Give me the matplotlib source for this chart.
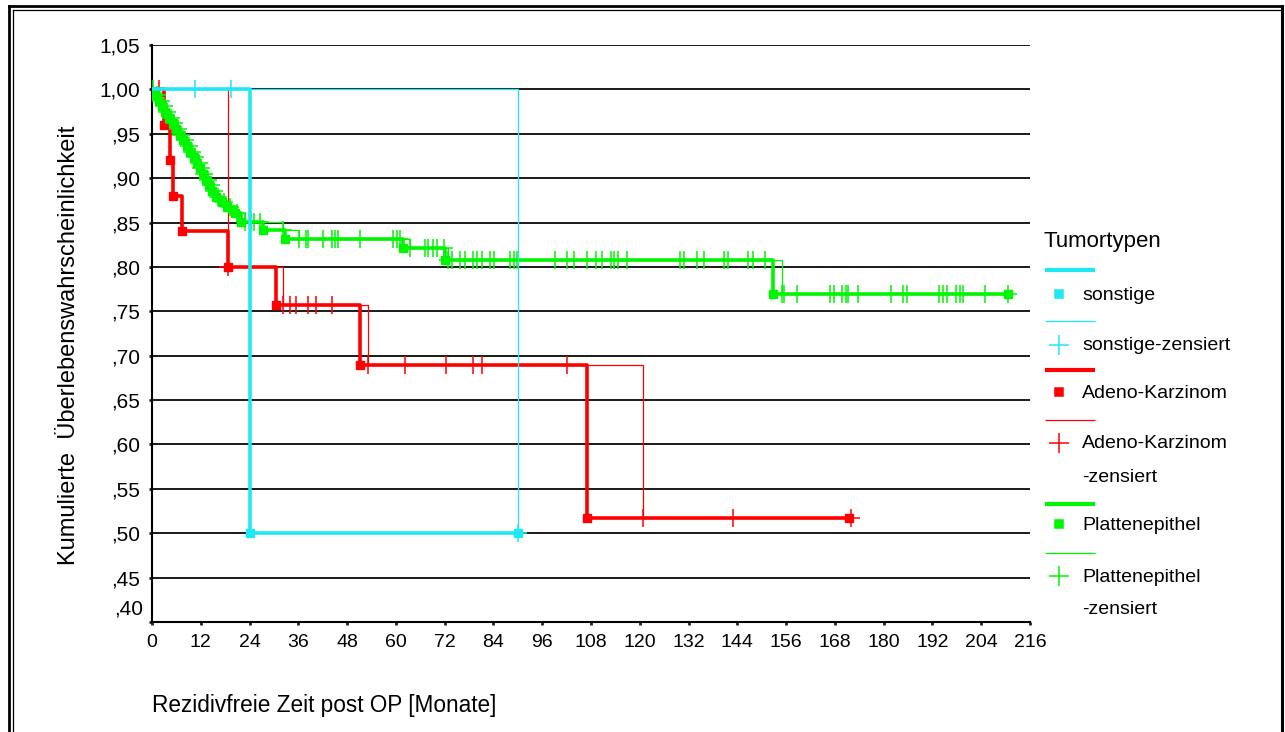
import numpy as np
import matplotlib.pyplot as plt
import matplotlib.transforms as mtransforms

plt.rcParams['font.family'] = ['Liberation Sans', 'DejaVu Sans']

# Kaplan-Meier Daten (Monate / kumulierte Ueberlebenswahrscheinlichkeit)
son_t = [0, 24.0, 90.0]
son_s = [1.00, 0.50, 0.50]
son_cens_t = [10.5, 19.4, 90.0]
son_cens_s = [1.00, 1.00, 0.50]

ade_t = [0, 3.0, 4.4, 5.2, 7.3, 18.7, 30.5, 51.2, 106.9, 171.5]
ade_s = [1.00, 0.96, 0.92, 0.88, 0.84, 0.80, 0.757, 0.689, 0.517, 0.517]
ade_cens_t = [1.8, 18.6, 32.3, 34.0, 35.4, 38.5, 40.3, 44.4,
              53.1, 62.2, 72.3, 79.0, 81.2, 102.1, 120.8, 143.0, 172.0]
ade_cens_s = [1.00, 0.80, 0.757, 0.757, 0.757, 0.757, 0.757, 0.757,
              0.689, 0.689, 0.689, 0.689, 0.689, 0.689, 0.517, 0.517, 0.517]

pla_t = [0, 0.8, 1.7, 2.5, 3.3, 4.3, 5.1, 6.0, 6.8, 7.6, 8.6, 9.4, 10.3, 11.1, 11.8,
         12.5, 13.3, 14.0, 14.8, 15.7, 17.1, 18.5, 20.3, 21.8, 27.3, 32.7, 61.8, 72.1,
         152.8, 210.7]
pla_s = [1.00, 0.994, 0.987, 0.981, 0.975, 0.968, 0.962, 0.955, 0.949, 0.943, 0.936,
         0.930, 0.924, 0.917, 0.911, 0.905, 0.898, 0.892, 0.886, 0.879, 0.873, 0.867,
         0.861, 0.851, 0.842, 0.832, 0.821, 0.808, 0.769, 0.769]
pla_cens_t = [0.3, 1.2, 2.1, 2.9, 3.8, 4.7, 5.5, 6.4, 7.2, 8.1, 9.0, 9.8, 10.7, 11.5,
              12.1, 12.9, 13.7, 14.4, 15.2, 16.3, 17.8, 19.2, 21.0, 22.8, 24.3, 25.2,
              26.5, 32.3,
              36.2, 37.9, 38.5, 42.1, 44.2, 45.0, 45.8, 51.2, 59.4, 60.2, 61.0,
              63.5, 67.2, 68.0, 69.2, 70.0, 71.8,
              72.9, 73.7, 75.8, 77.0, 78.9, 79.9, 81.1, 83.1, 84.2, 88.0, 89.0, 89.9,
              99.1, 102.0, 103.9, 106.9, 109.2, 110.8, 112.8, 113.7, 114.7, 116.9,
              129.9, 131.0, 134.0, 135.9, 140.7, 141.8, 146.7, 147.8, 150.8,
              154.9, 155.6, 158.6, 166.8, 167.8, 169.7, 170.7, 171.3, 173.8, 181.7,
              184.7, 185.7, 193.6, 194.7, 195.5, 197.8, 198.8, 199.4, 204.9, 210.7]
pla_cens_s = [1.00, 0.994, 0.987, 0.981, 0.975, 0.968, 0.962, 0.955, 0.949, 0.943,
              0.936, 0.930, 0.924, 0.917, 0.911, 0.905, 0.898, 0.892, 0.886, 0.879,
              0.873, 0.867, 0.861, 0.851, 0.851, 0.851, 0.851, 0.842] \
    + [0.832] * 11 + [0.821] * 6 + [0.808] * 31 + [0.769] * 20

xticks = [0, 12, 24, 36, 48, 60, 72, 84, 96, 108, 120, 132, 144, 156, 168, 180, 192, 204, 216]
yticks = [0.45, 0.50, 0.55, 0.60, 0.65, 0.70, 0.75, 0.80, 0.85, 0.90, 0.95, 1.00, 1.05]
ytick_labels = [',45', ',50', ',55', ',60', ',65', ',70', ',75', ',80', ',85', ',90',
                ',95', '1,00', '1,05']

CYAN = '#1fe8f5'
RED = '#ff0000'
GREEN = '#00f500'

legend_title = 'Tumortypen'
legend_labels = ['sonstige', 'sonstige-zensiert', 'Adeno-Karzinom', 'Adeno-Karzinom\n-zensiert',
                 'Plattenepithel', 'Plattenepithel\n-zensiert']


def draw_km(ax, t, s, ct, cs, color, z):
    ax.plot(t, s, drawstyle='steps-post', color=color, lw=2.6, zorder=z)
    ax.plot(t[1:], s[1:], ls='none', marker='s', ms=5.5, color=color, zorder=z)
    ax.plot(ct, cs, drawstyle='steps-post', color=color, lw=0.9, zorder=z)
    ax.plot(ct, cs, ls='none', marker='+', ms=13, mew=1.1, color=color, zorder=z)


fig = plt.figure(figsize=(12.85, 7.32), dpi=100)
ax = fig.add_axes([152 / 1285, 1 - 622 / 732, 878 / 1285, 577 / 732])

for y in yticks:
    ax.axhline(y, color='#1a1a1a', lw=1.4, zorder=1)

draw_km(ax, ade_t, ade_s, ade_cens_t, ade_cens_s, RED, 3)
draw_km(ax, pla_t, pla_s, pla_cens_t, pla_cens_s, GREEN, 4)
draw_km(ax, son_t, son_s, son_cens_t, son_cens_s, CYAN, 5)

ax.set_xlim(0, 216)
ax.set_ylim(0.40, 1.05)
ax.set_xticks(xticks)
ax.set_xticklabels([str(v) for v in xticks])
ax.set_yticks([0.40] + yticks)
ax.set_yticklabels([''] + ytick_labels)
ax.tick_params(axis='both', direction='out', length=2.5, width=2, color='#222222',
               labelsize=14, pad=6)
ax.tick_params(axis='y', labelsize=15)
for side in ['top', 'right']:
    ax.spines[side].set_visible(False)
ax.spines['left'].set_linewidth(1.5)
ax.spines['bottom'].set_linewidth(1.5)

# ,40 sitzt etwas ueber der Achse
off = mtransforms.ScaledTranslation(-0.09, 0.13, fig.dpi_scale_trans)
ax.text(0, 0.40, ',40', ha='right', va='center', fontsize=15,
        transform=ax.get_yaxis_transform() + off)

ax.set_xlabel('Rezidivfreie Zeit post OP [Monate]', fontsize=16.3, loc='left')
ax.xaxis.set_label_coords(0.0, -0.125)
ax.set_ylabel('Kumulierte  Überlebenswahrscheinlichkeit', fontsize=17, va='center')
ax.yaxis.set_label_coords(-0.095, 0.48)

# Legende und Rahmen in Pixelkoordinaten
ov = fig.add_axes([0, 0, 1, 1], zorder=10)
ov.set_xlim(0, 1285)
ov.set_ylim(732, 0)
ov.axis('off')
ov.patch.set_alpha(0)

ov.text(1043, 242, legend_title, fontsize=16, va='center', ha='left')
colors = [CYAN, CYAN, RED, RED, GREEN, GREEN]
line_y = [270, 321, 370, 420, 504, 553]
mark_y = [294, 345, 392, 443, 524, 576]
for i, lab in enumerate(legend_labels):
    censored = i % 2 == 1
    ov.plot([1045, 1095], [line_y[i], line_y[i]], color=colors[i],
            lw=0.9 if censored else 3.0, solid_capstyle='butt')
    ov.plot([1059], [mark_y[i]], ls='none', color=colors[i],
            marker='+' if censored else 's', ms=14 if censored else 5.5, mew=1.1)
    for k, part in enumerate(lab.split('\n')):
        ov.text(1082, mark_y[i] + 1 + 33 * k, part, fontsize=14, va='center', ha='left')

# doppelter Rahmen
ov.plot([9, 9], [6, 732], color='black', lw=2.0)
ov.plot([9, 1282], [6, 6], color='black', lw=2.0)
ov.plot([12.5, 12.5], [10, 732], color='black', lw=0.9)
ov.plot([12.5, 1282], [10, 10], color='black', lw=0.9)
ov.plot([1281.5, 1281.5], [6, 732], color='black', lw=2.2)

fig.savefig('out.png', dpi=100)
